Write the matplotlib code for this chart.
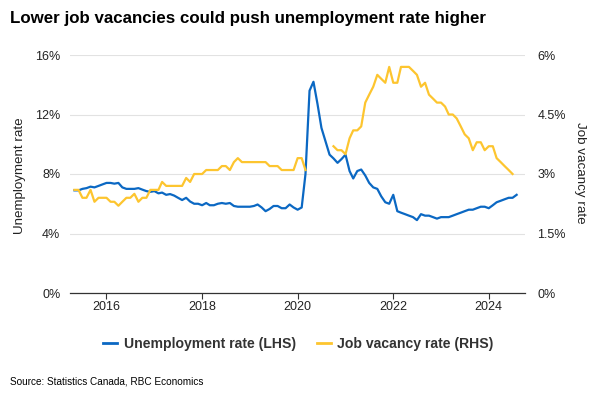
import numpy as np
import pandas as pd
import matplotlib
matplotlib.use("Agg")
from matplotlib import pyplot as plt
import matplotlib.dates as mdates

plt.rcParams['font.family'] = ['Liberation Sans', 'DejaVu Sans']

# monthly data, May 2015 to Aug 2024
months = pd.date_range("2015-05-01", "2024-08-01", freq="MS")

unemployment = [
    6.9, 6.9, 7.0, 7.05, 7.15, 7.1, 7.2, 7.3, 7.4, 7.4, 7.35, 7.4,
    7.1, 7.0, 7.0, 7.0, 7.05, 6.95, 6.85, 6.8, 6.85, 6.7, 6.75, 6.6,
    6.65, 6.55, 6.4, 6.25, 6.4, 6.15, 6.0, 6.0, 5.9, 6.05, 5.9, 5.9,
    6.0, 6.05, 6.0, 6.05, 5.85, 5.8, 5.8, 5.8, 5.8, 5.85, 5.95, 5.75,
    5.5, 5.65, 5.85, 5.85, 5.7, 5.7, 5.95, 5.75, 5.6, 5.75, 8.0, 13.6,
    14.2, 12.7, 11.1, 10.2, 9.3, 9.05, 8.75, 9.0, 9.3, 8.2, 7.7, 8.2,
    8.3, 7.9, 7.4, 7.1, 7.0, 6.5, 6.1, 6.0, 6.6, 5.5, 5.4, 5.3,
    5.2, 5.1, 4.9, 5.3, 5.2, 5.2, 5.1, 5.0, 5.1, 5.1, 5.1, 5.2,
    5.3, 5.4, 5.5, 5.6, 5.6, 5.7, 5.8, 5.8, 5.7, 5.9, 6.1, 6.2,
    6.3, 6.4, 6.4, 6.6,
]

nan = np.nan
vacancy = [
    2.6, 2.6, 2.4, 2.4, 2.6, 2.3, 2.4, 2.4, 2.4, 2.3, 2.3, 2.2,
    2.3, 2.4, 2.4, 2.5, 2.3, 2.4, 2.4, 2.6, 2.6, 2.6, 2.8, 2.7,
    2.7, 2.7, 2.7, 2.7, 2.9, 2.8, 3.0, 3.0, 3.0, 3.1, 3.1, 3.1,
    3.1, 3.2, 3.2, 3.1, 3.3, 3.4, 3.3, 3.3, 3.3, 3.3, 3.3, 3.3,
    3.3, 3.2, 3.2, 3.2, 3.1, 3.1, 3.1, 3.1, 3.4, 3.4, 3.1, nan,
    nan, nan, nan, nan, nan, 3.7, 3.6, 3.6, 3.5, 3.9, 4.1, 4.1,
    4.2, 4.8, 5.0, 5.2, 5.5, 5.4, 5.3, 5.7, 5.3, 5.3, 5.7, 5.7,
    5.7, 5.6, 5.5, 5.2, 5.3, 5.0, 4.9, 4.8, 4.8, 4.7, 4.5, 4.5,
    4.4, 4.2, 4.0, 3.9, 3.6, 3.8, 3.8, 3.6, 3.7, 3.7, 3.4, 3.3,
    3.2, 3.1, 3.0, nan,
]

left_ticks = [0, 4, 8, 12, 16]
right_ticks = [0, 1.5, 3, 4.5, 6]
right_labels = ["0%", "1.5%", "3%", "4.5%", "6%"]
year_ticks = [2016, 2018, 2020, 2022, 2024]

blue = "#0b68c3"
yellow = "#fdc52f"
txt = "#222222"

fig = plt.figure(figsize=(6, 4), dpi=100)
ax = fig.add_axes([70/600, 1-293/400, 455/600, 238/400])
ax2 = ax.twinx()

ax.plot(months, unemployment, color=blue, lw=1.6, zorder=3)
ax2.plot(months, vacancy, color=yellow, lw=1.6, zorder=2)

ax.set_ylim(0, 16)
ax.set_yticks(left_ticks)
ax.set_yticklabels([f"{t}%" for t in left_ticks])
ax2.set_ylim(0, 6)
ax2.set_yticks(right_ticks)
ax2.set_yticklabels(right_labels)

ax.set_xlim(pd.Timestamp("2015-03-28"), pd.Timestamp("2024-10-04"))
ax.set_xticks([pd.Timestamp(f"{y}-01-01") for y in year_ticks])
ax.xaxis.set_major_formatter(mdates.DateFormatter("%Y"))

ax.grid(axis="y", color="#e2e2e2", lw=0.8)
ax.set_axisbelow(True)
for a in (ax, ax2):
    for s in ("left", "right", "top"):
        a.spines[s].set_visible(False)
ax2.spines["bottom"].set_visible(False)
ax.spines["bottom"].set_color("#333333")
ax.spines["bottom"].set_linewidth(0.9)

ax.tick_params(axis="x", direction="out", length=4, width=0.8, color="#333333",
               labelsize=9, labelcolor=txt, pad=2)
ax.tick_params(axis="y", length=0, labelsize=9, labelcolor=txt, pad=7)
ax2.tick_params(axis="y", length=0, labelsize=9, labelcolor=txt, pad=9)

fig.text(20/600, 1-176/400, "Unemployment rate", rotation=90, ha="center",
         va="center", fontsize=9.6, color=txt)
fig.text(580/600, 1-173/400, "Job vacancy rate", rotation=270, ha="center",
         va="center", fontsize=9.6, color=txt)

fig.text(10/600, 1-18/400, "Lower job vacancies could push unemployment rate higher",
         fontsize=12.2, fontweight="bold", ha="left", va="center", color="black")

h1, = ax.plot([], [], color=blue, lw=2)
h2, = ax.plot([], [], color=yellow, lw=2)
leg = fig.legend([h1, h2], ["Unemployment rate (LHS)", "Job vacancy rate (RHS)"],
                 loc="center", bbox_to_anchor=(0.4975, 1-344/400), ncol=2,
                 frameon=False, handlelength=1.0, handletextpad=0.45,
                 columnspacing=1.5, prop={"size": 10.1, "weight": "bold"})
for t in leg.get_texts():
    t.set_color("#333333")

fig.text(10/600, 1-381/400, "Source: Statistics Canada, RBC Economics",
         fontsize=7.2, ha="left", va="center", color="black")

fig.savefig("out.png", dpi=100)
